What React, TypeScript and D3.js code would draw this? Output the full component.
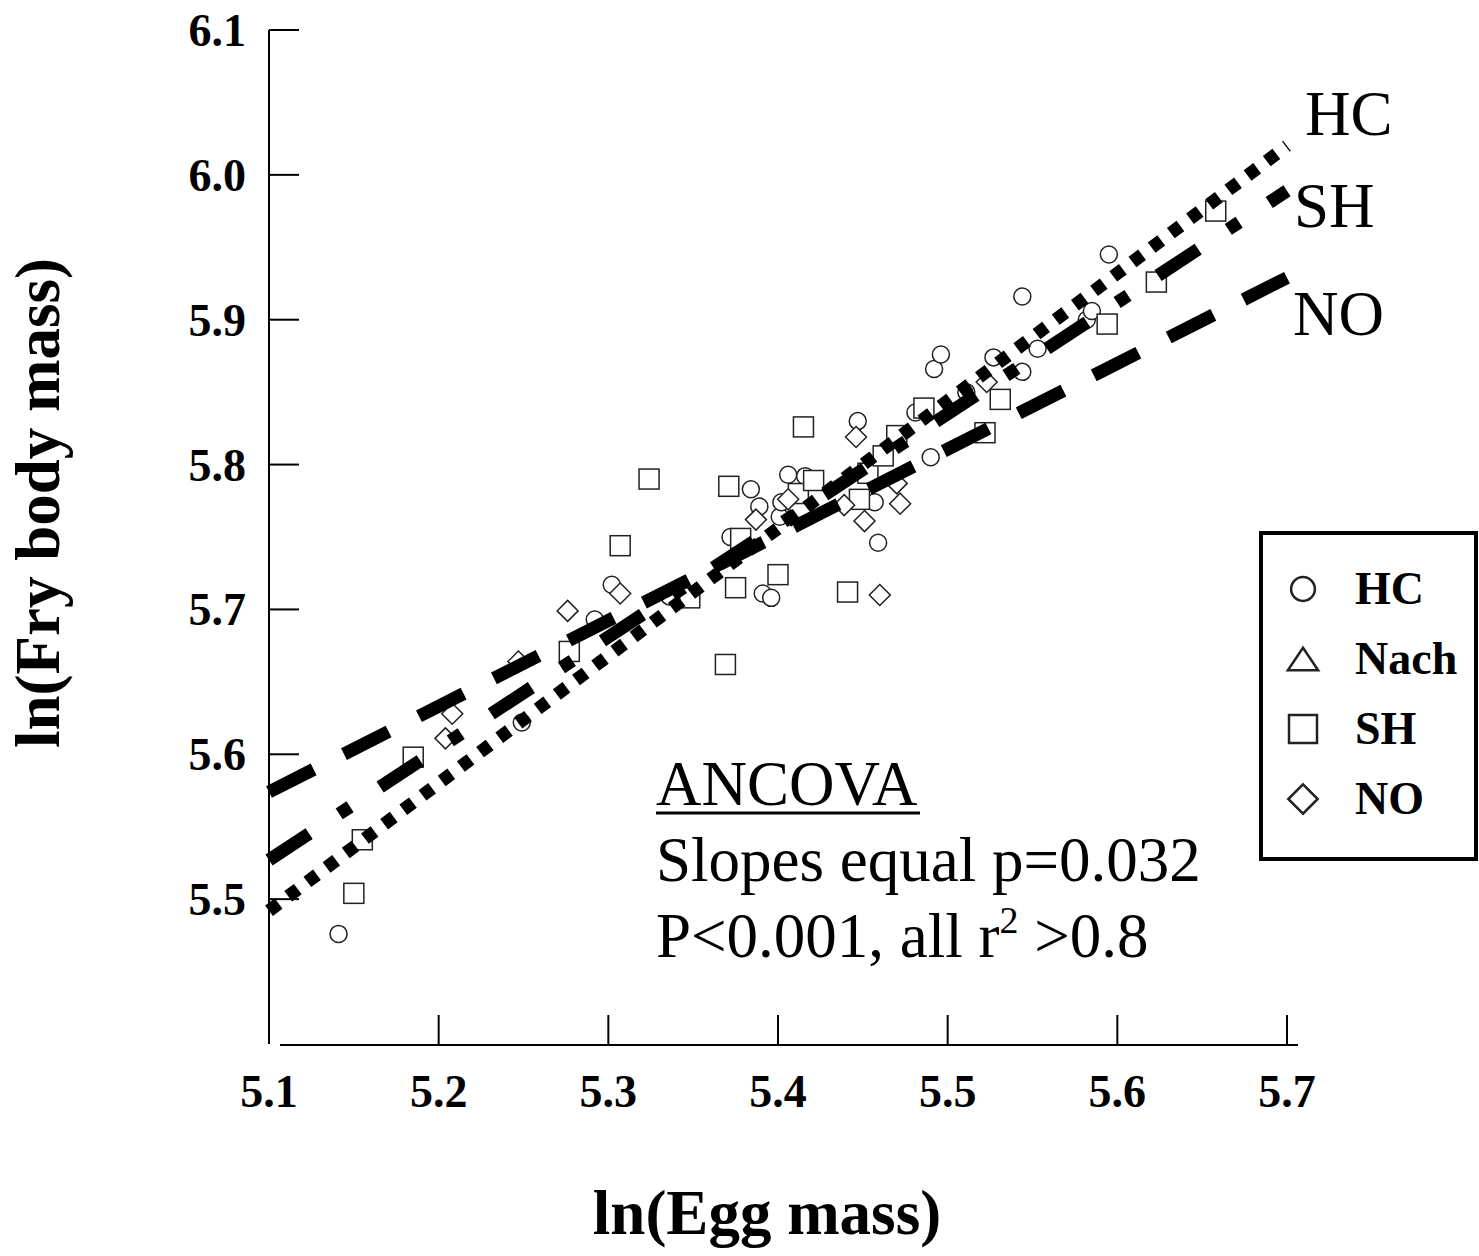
import { scaleLinear, line } from "d3";

const W = 1479;
const H = 1256;

// ln(egg mass), ln(fry body mass)
const hcPoints: [number, number][] = [
  [5.141, 5.476], [5.249, 5.622], [5.292, 5.693], [5.302, 5.717], [5.336, 5.709],
  [5.372, 5.75], [5.384, 5.783], [5.389, 5.771], [5.391, 5.711], [5.396, 5.708],
  [5.401, 5.764], [5.402, 5.774], [5.406, 5.793], [5.416, 5.792], [5.447, 5.83],
  [5.457, 5.774], [5.459, 5.746], [5.481, 5.836], [5.49, 5.805], [5.492, 5.866],
  [5.496, 5.876], [5.511, 5.85], [5.527, 5.874], [5.544, 5.864], [5.544, 5.916],
  [5.553, 5.88], [5.582, 5.9], [5.585, 5.906], [5.595, 5.945],
];
const nachPoints: [number, number][] = [];
const shPoints: [number, number][] = [
  [5.15, 5.504], [5.155, 5.541], [5.185, 5.598], [5.277, 5.671], [5.307, 5.744],
  [5.324, 5.79], [5.348, 5.708], [5.369, 5.662], [5.371, 5.785], [5.375, 5.715],
  [5.378, 5.749], [5.4, 5.724], [5.412, 5.78], [5.415, 5.826], [5.421, 5.789],
  [5.441, 5.712], [5.448, 5.776], [5.453, 5.794], [5.462, 5.806], [5.47, 5.82],
  [5.486, 5.839], [5.522, 5.822], [5.531, 5.845], [5.594, 5.897], [5.623, 5.926],
  [5.658, 5.975],
];
const noPoints: [number, number][] = [
  [5.204, 5.611], [5.208, 5.628], [5.247, 5.664], [5.276, 5.699], [5.307, 5.711],
  [5.387, 5.762], [5.406, 5.776], [5.439, 5.772], [5.446, 5.819], [5.451, 5.761],
  [5.46, 5.71], [5.47, 5.787], [5.472, 5.773], [5.523, 5.857],
];

// regression lines, end points
const hcFit: [number, number][] = [[5.1, 5.492], [5.7, 6.02]];
const shFit: [number, number][] = [[5.1, 5.527], [5.7, 5.989]];
const noFit: [number, number][] = [[5.1, 5.574], [5.7, 5.929]];

const xTicks = [5.1, 5.2, 5.3, 5.4, 5.5, 5.6, 5.7];
const yTicks = [5.5, 5.6, 5.7, 5.8, 5.9, 6.0, 6.1];
const legendItems = ["HC", "Nach", "SH", "NO"];

const font = "'Liberation Serif', 'Times New Roman', Times, serif";

const xScale = scaleLinear().domain([5.1, 5.7]).range([269, 1287]);
const yScale = scaleLinear().domain([5.4, 6.1]).range([1044, 30]);

const fitLine = line<[number, number]>()
  .x((d) => xScale(d[0]))
  .y((d) => yScale(d[1]));

const Marker = ({ kind, x, y, s = 1, sw = 1.5 }) => {
  const common = { fill: "white", stroke: "#222", strokeWidth: sw };
  if (kind === "HC") return <circle cx={x} cy={y} r={8.5 * s} {...common} />;
  if (kind === "SH")
    return <rect x={x - 10 * s} y={y - 10 * s} width={20 * s} height={20 * s} {...common} />;
  if (kind === "NO") {
    const r = 10.5 * s;
    return <path d={`M${x},${y - r}L${x + r},${y}L${x},${y + r}L${x - r},${y}Z`} {...common} />;
  }
  const r = 8 * s;
  return <path d={`M${x},${y - r}L${x + r * 1.35},${y + r}L${x - r * 1.35},${y + r}Z`} {...common} />;
};

const App = () => {
  const groups: [string, [number, number][]][] = [
    ["HC", hcPoints],
    ["Nach", nachPoints],
    ["SH", shPoints],
    ["NO", noPoints],
  ];
  return (
    <svg
      width={W}
      height={H}
      style={{ position: "absolute", left: 0, top: 0, background: "white" }}
      fontFamily={font}
    >
      {/* axes */}
      <line x1={269} x2={269} y1={yScale(6.1)} y2={yScale(5.4)} stroke="black" strokeWidth={2} />
      {yTicks.map((t) => (
        <g key={t}>
          <line x1={269} x2={299} y1={yScale(t)} y2={yScale(t)} stroke="black" strokeWidth={2} />
          <text x={246} y={yScale(t) + 16} textAnchor="end" fontWeight="bold" fontSize={46}>
            {t.toFixed(1)}
          </text>
        </g>
      ))}
      <line x1={280} x2={1298} y1={1045} y2={1045} stroke="black" strokeWidth={2} />
      {xTicks.map((t) => (
        <g key={t}>
          {t > 5.1 && (
            <line x1={xScale(t)} x2={xScale(t)} y1={1015} y2={1045} stroke="black" strokeWidth={2} />
          )}
          <text x={xScale(t)} y={1107} textAnchor="middle" fontWeight="bold" fontSize={46}>
            {t.toFixed(1)}
          </text>
        </g>
      ))}
      <text x={767} y={1234} textAnchor="middle" fontWeight="bold" fontSize={63}>
        ln(Egg mass)
      </text>
      <text
        transform="translate(59,503) rotate(-90)"
        textAnchor="middle"
        fontWeight="bold"
        fontSize={63}
      >
        ln(Fry body mass)
      </text>

      {/* points */}
      {groups.map(([k, pts]) =>
        pts.map((d, i) => <Marker key={k + i} kind={k} x={xScale(d[0])} y={yScale(d[1])} />)
      )}

      {/* fitted lines */}
      <path d={fitLine(noFit)} stroke="black" strokeWidth={13} fill="none" strokeDasharray="50 34" />
      <path
        d={fitLine(shFit)}
        stroke="black"
        strokeWidth={13}
        fill="none"
        strokeDasharray="48 36 13 36"
      />
      <path d={fitLine(hcFit)} stroke="black" strokeWidth={13} fill="none" strokeDasharray="12 12" />

      <text x={1305} y={135} fontSize={63}>HC</text>
      <text x={1294} y={227} fontSize={63}>SH</text>
      <text x={1293} y={335} fontSize={63}>NO</text>

      {/* stats */}
      <text x={656} y={805} fontSize={63}>ANCOVA</text>
      <line x1={656} x2={920} y1={813} y2={813} stroke="black" strokeWidth={3} />
      <text x={656} y={881} fontSize={63}>Slopes equal p=0.032</text>
      <text x={656} y={957} fontSize={63}>
        P&lt;0.001, all r
        <tspan fontSize={38} dy={-24}>2</tspan>
        <tspan dy={24}> &gt;0.8</tspan>
      </text>

      {/* legend */}
      <rect x={1261} y={533} width={215} height={326} fill="white" stroke="black" strokeWidth={4} />
      {legendItems.map((k, i) => (
        <g key={k} transform={`translate(0,${i * 70})`}>
          <Marker kind={k} x={1303} y={589} s={1.4} sw={2.5} />
          <text x={1355} y={604} fontWeight="bold" fontSize={46}>
            {k}
          </text>
        </g>
      ))}
    </svg>
  );
};

export default App;
